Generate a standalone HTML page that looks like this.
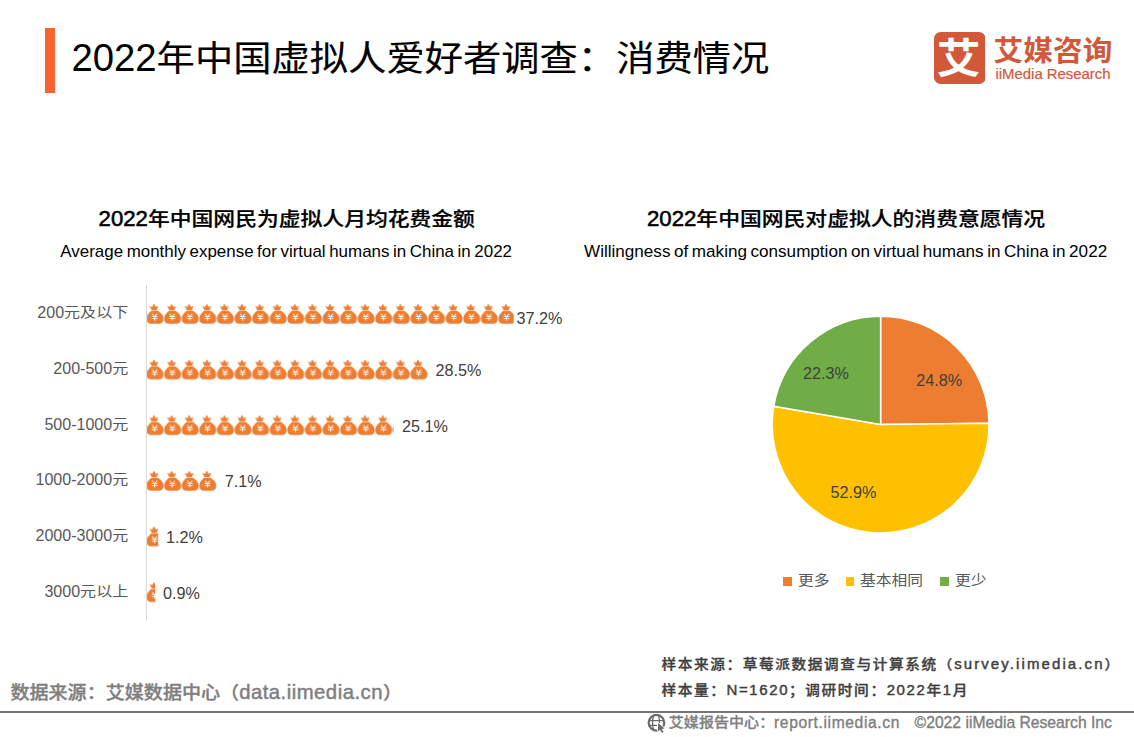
<!DOCTYPE html>
<html lang="zh-CN">
<head>
<meta charset="utf-8">
<title>2022年中国虚拟人爱好者调查：消费情况</title>
<style>
*{margin:0;padding:0;box-sizing:border-box}
html,body{width:1134px;height:737px;background:#fff;overflow:hidden}
body{position:relative;font-family:"Liberation Sans","Noto Sans CJK SC",sans-serif;color:#000}
.abs{position:absolute;white-space:nowrap}
.z{display:inline-block;line-height:1;transform-origin:0 84.65%}
#tbar{left:45px;top:28px;width:10px;height:65px;background:#f96332}
#logo{left:933.8px;top:31.9px;width:51.6px;height:52px}
#axis{left:146px;top:285.4px;width:1px;height:335px;background:#d9d9d9}
.lq{width:8.6px;height:8.6px;top:577.2px}
#hr{left:0;top:710.9px;width:1134px;height:1.9px;background:#767676}
</style>
</head>
<body>
<div class="abs" id="tbar"></div>
<svg class="abs" id="logo" viewBox="0 0 51.6 52"><rect x="0" y="0" width="51.6" height="52" rx="6.6" ry="6.6" fill="#d1593a"/><text x="0" y="41.3" font-size="40.5" font-weight="700" text-anchor="middle" fill="#fff" transform="translate(24.5,0) scale(1.08,1)" font-family="'Liberation Sans','Noto Sans CJK SC',sans-serif">艾</text></svg>
<svg class="abs" id="bars" style="left:0;top:280px" width="600" height="350" viewBox="0 280 600 350">
<defs><pattern id="bagp" patternUnits="userSpaceOnUse" x="146.25" y="303.1" width="17.595" height="55.65"><g transform="translate(0,1)"><path d="M5.6,6.0 L3.7,2.2 L6,3.1 L7.8,0.1 L9.6,3.1 L11.7,2.2 L10.4,6.0 Z" fill="#ed7d31" stroke="#ed7d31" stroke-width="0.5" stroke-linejoin="round"/><path d="M5,6.75 L11.6,6.75 C14.6,8.9 17.25,11.3 17.25,14.5 C17.25,17.7 15.7,19.7 13.4,19.7 L4.1,19.7 C1.8,19.7 0.3,17.7 0.3,14.5 C0.3,11.3 2.6,8.9 5,6.75 Z" fill="#ed7d31"/><text x="8.4" y="16.7" font-size="9.6" text-anchor="middle" fill="#fff" font-family="'IPAGothic','Liberation Sans',sans-serif">¥</text></g></pattern></defs>
<rect x="146.5" y="303.10" width="367.3" height="22" fill="url(#bagp)"/>
<rect x="146.5" y="358.75" width="281.2" height="22" fill="url(#bagp)"/>
<rect x="146.5" y="414.40" width="247.2" height="22" fill="url(#bagp)"/>
<rect x="146.5" y="470.05" width="69.7" height="22" fill="url(#bagp)"/>
<rect x="146.5" y="525.70" width="11.7" height="22" fill="url(#bagp)"/>
<rect x="146.5" y="581.35" width="8.7" height="22" fill="url(#bagp)"/>
</svg>
<div class="abs" id="axis"></div>
<svg class="abs" id="pie" style="left:760px;top:305px" width="240" height="240" viewBox="760 305 240 240">
<path d="M880.6,424.55 L880.60,316.15 A108.4,108.4 0 0 1 988.99,423.19 Z" fill="#ed7d31" stroke="#fff" stroke-width="1.5" stroke-linejoin="round"/>
<path d="M880.6,424.55 L988.99,423.19 A108.4,108.4 0 1 1 773.76,406.25 Z" fill="#ffc000" stroke="#fff" stroke-width="1.5" stroke-linejoin="round"/>
<path d="M880.6,424.55 L773.76,406.25 A108.4,108.4 0 0 1 880.60,316.15 Z" fill="#70ad47" stroke="#fff" stroke-width="1.5" stroke-linejoin="round"/>
</svg>
<div class="abs lq" style="left:783.2px;background:#ed7d31"></div>
<div class="abs lq" style="left:845.6px;background:#ffc000"></div>
<div class="abs lq" style="left:940.4px;background:#70ad47"></div>
<div class="abs" id="title" style="left:71.40px;top:38.58px;font-size:38.3px;line-height:1;color:#000;font-weight:400;">2022<span class="z" style="transform:translateY(-0.4px) scaleY(0.91);-webkit-text-stroke:0.15px currentColor">年中国虚拟人爱好者调查：消费情况</span></div>
<div class="abs" id="lname" style="left:993.60px;top:36.36px;font-size:29.7px;line-height:1;color:#d1593a;font-weight:700;"><span class="z" style="transform:scaleY(0.96)">艾媒咨询</span></div>
<div class="abs" id="lsub" style="left:995.50px;top:66.69px;font-size:14.9px;line-height:1;color:#d1593a;font-weight:400;"><span style="-webkit-text-stroke:0.2px currentColor;">iiMedia Research</span></div>
<div class="abs" id="ct1" style="left:98.60px;top:208.35px;font-size:21.8px;line-height:1;color:#000;font-weight:700;"><span style="font-size:22.2px;font-weight:400;-webkit-text-stroke:0.55px currentColor;">2022</span><span class="z" style="transform:scaleY(0.89);font-weight:500;-webkit-text-stroke:0.25px currentColor">年中国网民为虚拟人月均花费金额</span></div>
<div class="abs" id="ct2" style="left:647.00px;top:208.35px;font-size:21.8px;line-height:1;color:#000;font-weight:700;"><span style="font-size:22.2px;font-weight:400;-webkit-text-stroke:0.55px currentColor;">2022</span><span class="z" style="transform:scaleY(0.89);font-weight:500;-webkit-text-stroke:0.25px currentColor">年中国网民对虚拟人的消费意愿情况</span></div>
<div class="abs" id="cs1" style="left:60.30px;top:243.95px;font-size:16.95px;line-height:1;color:#000;font-weight:400;word-spacing:-1.14px;">Average monthly expense for virtual humans in China in 2022</div>
<div class="abs" id="cs2" style="left:584.00px;top:243.32px;font-size:17.1px;line-height:1;color:#000;font-weight:400;word-spacing:-1.18px;">Willingness of making consumption on virtual humans in China in 2022</div>
<div class="abs" id="cat0" style="right:1005.80px;top:304.01px;font-size:16.05px;line-height:1;color:#595959;font-weight:400;">200<span class="z" style="transform:translateY(-1px) scaleY(0.88)">元及以下</span></div>
<div class="abs" id="val0" style="left:516.50px;top:309.69px;font-size:16.2px;line-height:1;color:#404040;font-weight:400;">37.2%</div>
<div class="abs" id="cat1" style="right:1005.80px;top:359.81px;font-size:16.05px;line-height:1;color:#595959;font-weight:400;">200-500<span class="z" style="transform:translateY(-1px) scaleY(0.88)">元</span></div>
<div class="abs" id="val1" style="left:435.60px;top:361.79px;font-size:16.2px;line-height:1;color:#404040;font-weight:400;">28.5%</div>
<div class="abs" id="cat2" style="right:1005.80px;top:415.61px;font-size:16.05px;line-height:1;color:#595959;font-weight:400;">500-1000<span class="z" style="transform:translateY(-1px) scaleY(0.88)">元</span></div>
<div class="abs" id="val2" style="left:402.10px;top:417.59px;font-size:16.2px;line-height:1;color:#404040;font-weight:400;">25.1%</div>
<div class="abs" id="cat3" style="right:1005.80px;top:471.41px;font-size:16.05px;line-height:1;color:#595959;font-weight:400;">1000-2000<span class="z" style="transform:translateY(-1px) scaleY(0.88)">元</span></div>
<div class="abs" id="val3" style="left:224.70px;top:473.49px;font-size:16.2px;line-height:1;color:#404040;font-weight:400;">7.1%</div>
<div class="abs" id="cat4" style="right:1005.80px;top:527.21px;font-size:16.05px;line-height:1;color:#595959;font-weight:400;">2000-3000<span class="z" style="transform:translateY(-1px) scaleY(0.88)">元</span></div>
<div class="abs" id="val4" style="left:166.10px;top:529.29px;font-size:16.2px;line-height:1;color:#404040;font-weight:400;">1.2%</div>
<div class="abs" id="cat5" style="right:1005.80px;top:583.01px;font-size:16.05px;line-height:1;color:#595959;font-weight:400;">3000<span class="z" style="transform:translateY(-1px) scaleY(0.88)">元以上</span></div>
<div class="abs" id="val5" style="left:162.90px;top:584.79px;font-size:16.2px;line-height:1;color:#404040;font-weight:400;">0.9%</div>
<div class="abs" id="p1" style="left:916.30px;top:371.99px;font-size:16.2px;line-height:1;color:#404040;font-weight:400;">24.8%</div>
<div class="abs" id="p2" style="left:830.50px;top:484.49px;font-size:16.2px;line-height:1;color:#404040;font-weight:400;">52.9%</div>
<div class="abs" id="p3" style="left:802.90px;top:365.19px;font-size:16.2px;line-height:1;color:#404040;font-weight:400;">22.3%</div>
<div class="abs" id="lg1" style="left:798.00px;top:571.57px;font-size:15.75px;line-height:1;color:#595959;font-weight:400;"><span class="z" style="transform:scaleY(0.9)">更多</span></div>
<div class="abs" id="lg2" style="left:860.00px;top:571.57px;font-size:15.75px;line-height:1;color:#595959;font-weight:400;"><span class="z" style="transform:scaleY(0.9)">基本相同</span></div>
<div class="abs" id="lg3" style="left:955.00px;top:571.57px;font-size:15.75px;line-height:1;color:#595959;font-weight:400;"><span class="z" style="transform:scaleY(0.9)">更少</span></div>
<div class="abs" id="src" style="left:10.40px;top:681.76px;font-size:19.07px;line-height:1;color:#7f7f7f;font-weight:700;"><span class="z" style="transform:scaleY(0.925);font-weight:500;-webkit-text-stroke:0.4px currentColor">数据来源：艾媒数据中心（</span><span style="letter-spacing:0.49px;font-size:20.3px;font-weight:400;-webkit-text-stroke:0.5px currentColor;">data.iimedia.cn</span><span class="z" style="transform:scaleY(0.925);font-weight:500;-webkit-text-stroke:0.4px currentColor">）</span></div>
<div class="abs" id="smp1" style="left:661.50px;top:656.38px;font-size:14.67px;line-height:1;color:#404040;font-weight:700;letter-spacing:1.6px;"><span class="z" style="transform:scaleY(0.9);font-weight:500;-webkit-text-stroke:0.35px currentColor">样本来源：草莓派数据调查与计算系统（</span><span style="letter-spacing:2.1px;font-size:15px;font-weight:400;-webkit-text-stroke:0.45px currentColor;">survey.iimedia.cn</span><span class="z" style="transform:scaleY(0.9);font-weight:500;-webkit-text-stroke:0.35px currentColor">）</span></div>
<div class="abs" id="smp2" style="left:661.50px;top:681.58px;font-size:14.67px;line-height:1;color:#404040;font-weight:700;letter-spacing:1.6px;"><span class="z" style="transform:scaleY(0.9);font-weight:500;-webkit-text-stroke:0.35px currentColor">样本量：</span><span style="font-size:15px;font-weight:400;-webkit-text-stroke:0.45px currentColor;">N=1620</span><span class="z" style="transform:scaleY(0.9);font-weight:500;-webkit-text-stroke:0.35px currentColor">；调研时间：</span><span style="font-size:15px;font-weight:400;-webkit-text-stroke:0.45px currentColor;">2022</span><span class="z" style="transform:scaleY(0.9);font-weight:500;-webkit-text-stroke:0.35px currentColor">年</span><span style="font-size:15px;font-weight:400;-webkit-text-stroke:0.45px currentColor;">1</span><span class="z" style="transform:scaleY(0.9);font-weight:500;-webkit-text-stroke:0.35px currentColor">月</span></div>
<div class="abs" id="ft1" style="left:668.80px;top:715.14px;font-size:15.07px;line-height:1;color:#7f7f7f;font-weight:500;"><span class="z" style="transform:translateY(-0.8px) scaleY(0.915);-webkit-text-stroke:0.3px currentColor">艾媒报告中心：</span></div>
<div class="abs" id="ft2" style="left:774.00px;top:714.69px;font-size:15.6px;line-height:1;color:#7f7f7f;font-weight:400;letter-spacing:0.63px;-webkit-text-stroke:0.38px currentColor;">report.iimedia.cn</div>
<div class="abs" id="ft3" style="left:914.60px;top:714.61px;font-size:15.7px;line-height:1;color:#7f7f7f;font-weight:400;-webkit-text-stroke:0.38px currentColor;">©2022 iiMedia Research Inc</div>
<svg class="abs" id="globe" style="left:645px;top:711px" width="22" height="24" viewBox="645 711 22 24"><g fill="none" stroke="#6a6a6a"><circle cx="656.45" cy="722.75" r="7.8" stroke-width="2.2"/><path d="M653.7,722.75 m0,-7.3 C652.2,719 652.2,726.5 653.7,730 M658.6,715.4 C659.3,718 659.5,720 659.5,723 M649,720.6 H664 M649,725.3 H657" stroke-width="1.3"/></g><path d="M658,723 L658,731.4 L660.1,729.7 L662.1,733 L663.6,732.1 L661.7,728.9 L664.6,728.5 Z" fill="#6a6a6a" stroke="#fff" stroke-width="1.6" paint-order="stroke" stroke-linejoin="round"/></svg>
<div class="abs" id="hr"></div>
</body>
</html>
